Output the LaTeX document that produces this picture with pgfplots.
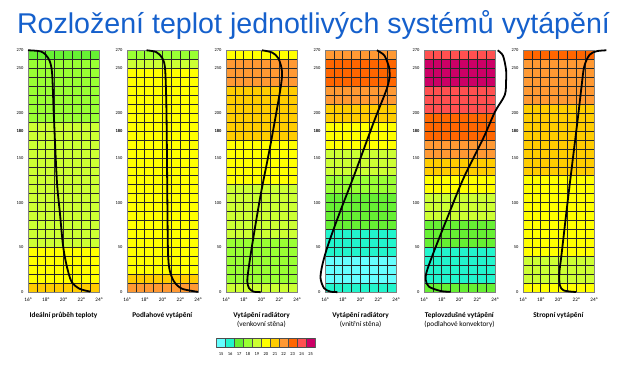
\documentclass[border=0pt]{standalone}
\usepackage{fontspec}
\setmainfont{Carlito}
\newfontfamily\titlefont{Liberation Sans}
\usepackage{pgfplots}
\pgfplotsset{compat=1.18}
\definecolor{c15}{HTML}{66FFFF}
\definecolor{c16}{HTML}{22F5CC}
\definecolor{c17}{HTML}{66F033}
\definecolor{c18}{HTML}{99FF33}
\definecolor{c19}{HTML}{CCFF33}
\definecolor{c20}{HTML}{FFFF00}
\definecolor{c21}{HTML}{FFCC00}
\definecolor{c22}{HTML}{FF9933}
\definecolor{c23}{HTML}{FF6600}
\definecolor{c24}{HTML}{FF5050}
\definecolor{c25}{HTML}{CC0066}
\definecolor{titleblue}{HTML}{1560CC}
\newcommand{\band}[3]{\addplot[fill=#1,draw=none,forget plot,on layer=axis background] coordinates {(16,#2) (24,#2) (24,#3) (16,#3)} --cycle;}
\newcommand{\cell}[2]{\addplot[fill=#1,draw=black!70,line width=0.5pt,forget plot] coordinates {(#2-0.5,0) (#2+0.5,0) (#2+0.5,1) (#2-0.5,1)} --cycle;}
\pgfplotsset{
 panel/.style={
  set layers, scale only axis, width=71pt, height=242pt,
  anchor=south west,
  xmin=16,xmax=24,ymin=0,ymax=270,
  xtick={16,18,20,22,24}, xticklabels={16°,18°,20°,22°,24°},
  minor xtick={17,19,21,23},
  ytick={0,50,100,150,180,200,250,270},
  yticklabels={0,50,100,150,\textbf{180},200,250,270},
  minor ytick={10,20,...,260},
  grid=both,
  major grid style={line width=0.6pt, draw=black!85},
  minor grid style={line width=0.6pt, draw=black!85},
  axis line style={draw=black!50, line width=0.8pt},
  major tick length=0pt, minor tick length=0pt,
  tick style={draw=none},
  xticklabel style={font=\fontsize{5.2}{6}\selectfont, yshift=-2pt},
  yticklabel style={font=\fontsize{4.5}{5}\selectfont, xshift=-1pt},
  clip=false,
  xlabel style={at={(axis description cs:0.5,0)}, anchor=north, yshift=-20pt, align=center, font=\fontsize{7.3}{9}\selectfont, inner sep=0pt},
 },
 curve/.style={black, line width=1.8pt, smooth, tension=0.5, mark=none},
}
\begin{document}
\begin{tikzpicture}
\path (0,0) rectangle (623pt,366pt);
\node[anchor=base, font=\titlefont\fontsize{28.6}{30}\selectfont, text=titleblue, inner sep=0pt] at (313.5pt,332.5pt) {Rozložení teplot jednotlivých systémů vytápění};

% Panel 1
\begin{axis}[panel, at={(28pt,73.7pt)}, xlabel={\textbf{Ideální průběh teploty}}]
\band{c21}{0}{10}\band{c20}{10}{50}\band{c19}{50}{190}\band{c18}{190}{260}\band{c17}{260}{270}
\addplot[curve] coordinates {(16,270) (17.5,268.5) (18.3,261) (18.7,246) (18.9,200) (19.25,125) (19.6,88) (19.95,52) (20.35,30) (20.9,12) (21.8,4) (23,0.8)};
\end{axis}

% Panel 2
\begin{axis}[panel, at={(127pt,73.7pt)}, xlabel={\textbf{Podlahové vytápění}}]
\band{c22}{0}{10}\band{c21}{10}{20}\band{c20}{20}{250}\band{c19}{250}{260}\band{c18}{260}{270}
\addplot[curve] coordinates {(18.2,270) (19.3,268) (20,261) (20.3,248) (20.45,200) (20.55,100) (20.62,45) (20.8,25) (21.3,12) (22.2,4) (24,0.5)};
\end{axis}

% Panel 3
\begin{axis}[panel, at={(226pt,73.7pt)}, xlabel={\textbf{Vytápění radiátory}\\(venkovní stěna)}]
\band{c19}{0}{10}\band{c18}{10}{60}\band{c19}{60}{120}\band{c20}{120}{170}\band{c21}{170}{230}\band{c22}{230}{260}\band{c20}{260}{270}
\addplot[curve] coordinates {(20.05,270) (21.2,267.5) (21.9,261) (22.3,247) (22.15,228) (21.0,164) (19.9,108.5) (18.95,53) (18.5,23) (18.4,12) (18.6,4.5) (19.1,0.8) (19.9,0.2)};
\end{axis}

% Panel 4
\begin{axis}[panel, at={(325pt,73.7pt)}, xlabel={\textbf{Vytápění radiátory}\\(vnitřní stěna)}]
\band{c16}{0}{10}\band{c15}{10}{40}\band{c16}{40}{70}\band{c17}{70}{110}\band{c18}{110}{130}\band{c19}{130}{160}\band{c20}{160}{190}\band{c21}{190}{210}\band{c22}{210}{230}\band{c23}{230}{260}\band{c22}{260}{270}
\addplot[curve] coordinates {(21.85,270) (22.7,264) (23.25,250) (23.3,242) (22.96,227) (21.5,190) (19.3,131) (17.7,90) (16.35,53) (15.7,30.5) (15.5,15.6) (15.9,4.5) (16.6,0.8) (17.4,0.2)};
\end{axis}

% Panel 5
\begin{axis}[panel, at={(424pt,73.7pt)}, xlabel={\textbf{Teplovzdušné vytápění}\\(podlahové konvektory)}]
\band{c17}{0}{10}\band{c16}{10}{50}\band{c17}{50}{80}\band{c19}{80}{110}\band{c20}{110}{130}\band{c21}{130}{150}\band{c22}{150}{170}\band{c23}{170}{200}\band{c24}{200}{230}\band{c25}{230}{260}\band{c24}{260}{270}
\addplot[curve] coordinates {(24.3,270) (24.9,264) (25.25,248) (25.25,236) (25.1,220) (24.0,201.5) (22.67,171.7) (20.44,127) (18.6,82.5) (17.1,45) (16.3,23) (16.2,13.8) (16.55,6.3) (17.85,1.5) (19,0.5)};
\end{axis}

% Panel 6
\begin{axis}[panel, at={(523pt,73.7pt)}, xlabel={\textbf{Stropní vytápění}}]
\band{c20}{0}{10}\band{c19}{10}{40}\band{c20}{40}{130}\band{c21}{130}{210}\band{c22}{210}{260}\band{c23}{260}{270}
\addplot[curve] coordinates {(25.4,270) (24.3,269) (23.5,265) (22.9,252) (22.6,230) (22.2,196) (21.1,107) (20.35,43) (20.1,22) (20.15,8) (20.6,2) (22,0.3)};
\end{axis}

% Colour scale
\begin{axis}[at={(216.7pt,18.3pt)}, anchor=south west, scale only axis, width=98.3pt, height=9.4pt,
 xmin=14.5, xmax=25.5, ymin=0, ymax=1, xtick={15,16,17,18,19,20,21,22,23,24,25},
 xticklabels={15,16,17,18,19,20,21,22,23,24,25}, ytick=\empty, tick style={draw=none},
 major tick length=0pt, axis line style={draw=black!60, line width=0.6pt},
 xticklabel style={font=\fontsize{4.5}{5}\selectfont, yshift=-1pt}]
\cell{c15}{15}\cell{c16}{16}\cell{c17}{17}\cell{c18}{18}\cell{c19}{19}\cell{c20}{20}
\cell{c21}{21}\cell{c22}{22}\cell{c23}{23}\cell{c24}{24}\cell{c25}{25}
\end{axis}
\end{tikzpicture}
\end{document}
